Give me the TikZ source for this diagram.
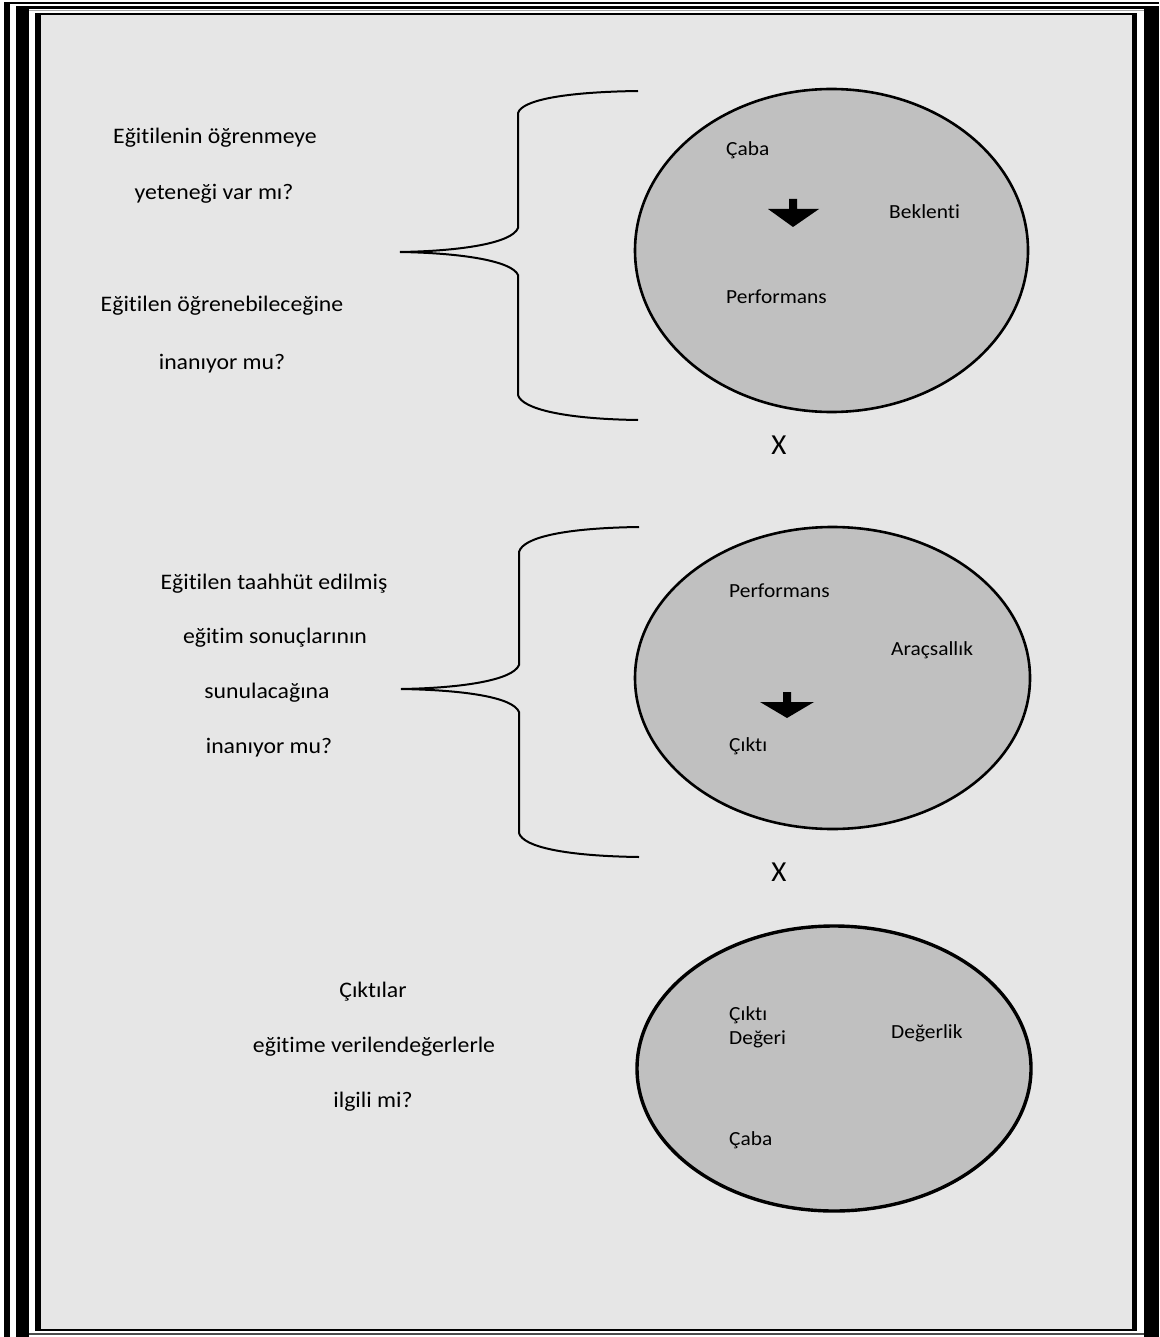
\documentclass[tikz,border=0pt]{standalone}
\usepackage{fontspec}
\setmainfont[Ligatures=NoCommon, FakeStretch=1.07]{Carlito}
\newfontfamily\xfont{Carlito}
\usetikzlibrary{shapes.geometric}
\definecolor{pagebg}{RGB}{230,230,230}
\definecolor{ellfill}{RGB}{192,192,192}
\tikzset{
  ell/.style={ellipse, draw=black, fill=ellfill, line width=2.6pt, inner sep=0pt},
  lefttxt/.style={anchor=base, font=\fontsize{22.2}{25}\selectfont, inner sep=0pt},
  intxt/.style={anchor=base west, font=\fontsize{20}{22}\selectfont, inner sep=0pt},
  xmark/.style={anchor=base, font=\xfont\fontsize{29}{32}\selectfont, inner sep=0pt},
  bracepath/.style={draw=black, line width=2pt},
  downarrow/.style={fill=black, draw=none},
}
\begin{document}
\begin{tikzpicture}[x=1pt,y=-1pt]
\useasboundingbox (0,0) rectangle (1159,1337);
% page and frame
\fill[white] (0,0) rectangle (1159,1337);
\fill[pagebg] (41,15) rectangle (1132,1329);
\fill[black] (4,2) rectangle (10,1337);
\fill[black] (4,2) rectangle (1159,4);
\fill[black] (16,6) rectangle (29,1337);
\fill[black] (16,6) rectangle (1159,9);
\fill[black!35] (29,10) rectangle (1144,11);
\fill[black] (35,13) rectangle (41,1331);
\fill[black] (35,13) rectangle (1137,15);
\fill[black] (1132,13) rectangle (1137,1331);
\fill[black] (35,1329) rectangle (1137,1331);
\fill[black] (1144,6) rectangle (1159,1337);
\fill[black!70] (29,1333) rectangle (1144,1334.5);

% ellipses
\node[ell, minimum width=393pt, minimum height=323pt] (e1) at (831.5,250.5) {};
\node[ell, minimum width=395pt, minimum height=302pt] (e2) at (832.5,678) {};
\node[ell, line width=3.4pt, minimum width=394pt, minimum height=285pt] (e3) at (834,1068.5) {};

% texts in ellipse 1
\node[intxt] (c1) at (726,156) {Çaba};
\node[intxt] (b1) at (889,219) {Beklenti};
\node[intxt] (p1) at (726,304) {Performans};
\fill[downarrow] (789,199) -- (797,199) -- (797,209) -- (819,209) -- (793,227) -- (768,209) -- (789,209) -- cycle;

% texts in ellipse 2
\node[intxt] (p2) at (729,597) {Performans};
\node[intxt] (a2) at (891,655) {Araçsallık};
\node[intxt] (c2) at (729,751) {Çıktı};
\fill[downarrow] (783,692) -- (791,692) -- (791,702) -- (814,702) -- (787,718) -- (760,702) -- (783,702) -- cycle;

% texts in ellipse 3
\node[intxt] (c3a) at (729,1020) {Çıktı};
\node[intxt] (c3b) at (729,1044) {Değeri};
\node[intxt] (d3) at (891,1038) {Değerlik};
\node[intxt] (cb3) at (729,1145) {Çaba};

% X marks
\node[xmark] (x1) at (779,454) {X};
\node[xmark] (x2) at (779,881) {X};

% braces
\coordinate (br1top) at (638,91);
\coordinate (br1tip) at (400,252);
\coordinate (br1bot) at (638,420);
\path[bracepath] (br1top) .. controls (565,92) and (522,100) .. (518,113) -- (518,228)
  .. controls (512,243) and (462,251) .. (br1tip)
  .. controls (462,253) and (512,261) .. (518,275) -- (518,395)
  .. controls (522,409) and (565,419) .. (br1bot);

\coordinate (br2top) at (639,527);
\coordinate (br2tip) at (401,689);
\coordinate (br2bot) at (639,857);
\path[bracepath] (br2top) .. controls (566,528) and (523,537) .. (519,552) -- (519,665)
  .. controls (513,680) and (463,688) .. (br2tip)
  .. controls (463,690) and (513,697) .. (519,712) -- (519,833)
  .. controls (523,847) and (566,856) .. (br2bot);

% left texts group 1
\node[lefttxt] (q1a) at (215,144) {Eğitilenin öğrenmeye};
\node[lefttxt] (q1b) at (214,200) {yeteneği var mı?};
\node[lefttxt] (q1c) at (222,312) {Eğitilen öğrenebileceğine};
\node[lefttxt] (q1d) at (222,369) {inanıyor mu?};

% left texts group 2
\node[lefttxt] (q2a) at (274,589) {Eğitilen taahhüt edilmiş};
\node[lefttxt] (q2b) at (275,643) {eğitim sonuçlarının};
\node[lefttxt] (q2c) at (267,698) {sunulacağına};
\node[lefttxt] (q2d) at (269,753) {inanıyor mu?};

% left texts group 3
\node[lefttxt] (q3a) at (373,997) {Çıktılar};
\node[lefttxt] (q3b) at (374,1052) {eğitime verilendeğerlerle};
\node[lefttxt] (q3c) at (373,1107) {ilgili mi?};
\end{tikzpicture}
\end{document}
